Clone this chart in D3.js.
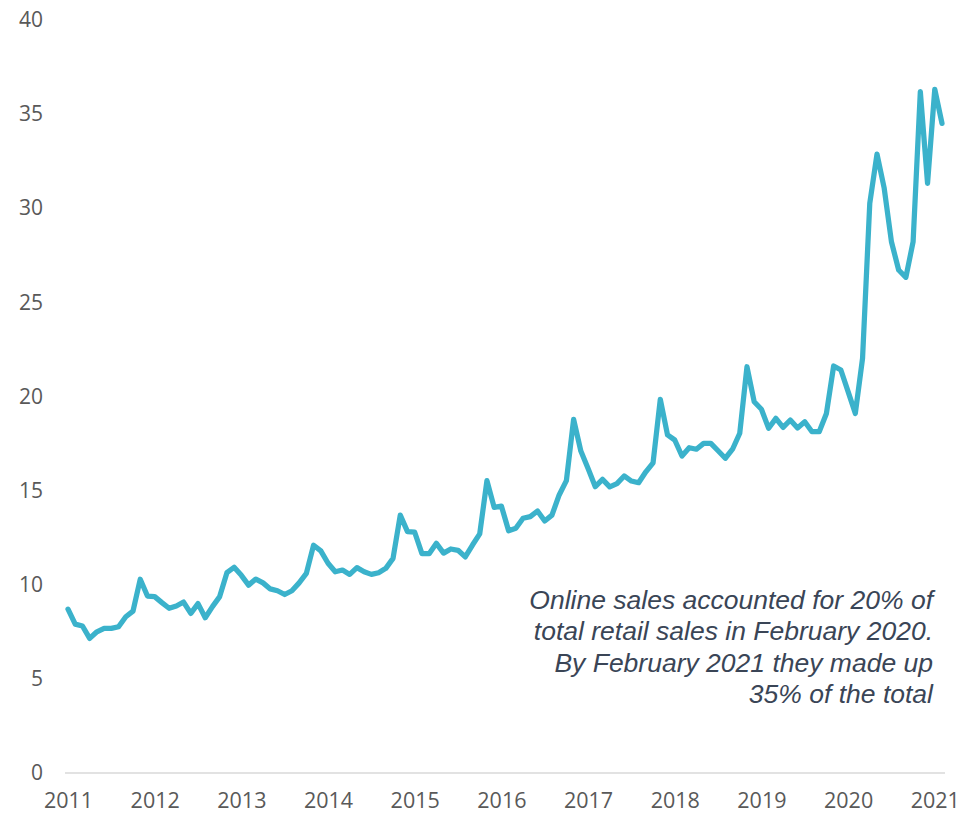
<!DOCTYPE html>
<html>
<head>
<meta charset="utf-8">
<script src="https://cdn.jsdelivr.net/npm/d3@7"></script>
<style>
    body { margin: 0; background: #fff; }
    #chart { width: 974px; height: 815px; }
    .tick text { font-family: "Open Sans", sans-serif; fill: #595959; }
</style>
</head>
<body>
<div id="chart"></div>
<script>
// Internet sales as % of total retail sales, monthly Jan 2011 - Feb 2021
const onlineShare = [
    8.7, 7.91, 7.81, 7.15, 7.5, 7.68, 7.68, 7.77, 8.3, 8.6, 10.29, 9.4,          // 2011
    9.37, 9.05, 8.75, 8.87, 9.08, 8.48, 9.0, 8.25, 8.84, 9.37, 10.64, 10.93,     // 2012
    10.5, 9.98, 10.3, 10.1, 9.78, 9.68, 9.48, 9.68, 10.1, 10.6, 12.1, 11.8,      // 2013
    11.14, 10.69, 10.78, 10.55, 10.91, 10.69, 10.55, 10.64, 10.87, 11.4, 13.7, 12.82, // 2014
    12.79, 11.65, 11.65, 12.2, 11.68, 11.9, 11.83, 11.48, 12.11, 12.7, 15.53, 14.11,  // 2015
    14.18, 12.87, 13.0, 13.53, 13.62, 13.92, 13.39, 13.7, 14.77, 15.53, 18.79, 17.1,  // 2016
    16.18, 15.21, 15.6, 15.2, 15.37, 15.78, 15.51, 15.42, 16.0, 16.48, 19.85, 17.96,  // 2017
    17.69, 16.84, 17.28, 17.2, 17.51, 17.51, 17.12, 16.72, 17.2, 18.05, 21.58, 19.72, // 2018
    19.32, 18.31, 18.84, 18.36, 18.75, 18.33, 18.66, 18.13, 18.13, 19.1, 21.62, 21.41, // 2019
    20.26, 19.1, 22.03, 30.26, 32.88, 31.06, 28.22, 26.72, 26.33, 28.22, 36.19, 31.32, // 2020
    36.32, 34.51                                                                        // 2021
];

const yearLabels = ["2011", "2012", "2013", "2014", "2015", "2016", "2017", "2018", "2019", "2020", "2021"];
const yTicks = [0, 5, 10, 15, 20, 25, 30, 35, 40];

const noteLines = [
    "Online sales accounted for 20% of",
    "total retail sales in February 2020.",
    "By February 2021 they made up",
    "35% of the total"
];

const width = 974, height = 815;

const svg = d3.select("#chart").append("svg")
    .attr("width", width)
    .attr("height", height);

const x = d3.scaleLinear()
    .domain([0, onlineShare.length - 1])
    .range([68, 942]);

const y = d3.scaleLinear()
    .domain([0, 40])
    .range([773, 20]);

// y labels, no axis line
const yAxis = svg.append("g")
    .attr("transform", "translate(43,0)")
    .call(d3.axisLeft(y).tickValues(yTicks).tickSize(0).tickPadding(0));
yAxis.select(".domain").remove();
yAxis.selectAll("text").style("font-size", "21px");

// baseline
svg.append("line")
    .attr("x1", x.range()[0] - 3)
    .attr("x2", x.range()[1] + 3)
    .attr("y1", y(0))
    .attr("y2", y(0))
    .attr("stroke", "#d9d9d9")
    .attr("stroke-width", 1.5);

// year labels at each January
const xAxis = svg.append("g")
    .attr("transform", `translate(0,${y(0)})`)
    .call(d3.axisBottom(x)
        .tickValues(yearLabels.map((d, i) => i * 12))
        .tickFormat((d, i) => yearLabels[i])
        .tickSize(0)
        .tickPadding(20));
xAxis.select(".domain").remove();
xAxis.selectAll("text").style("font-size", "21.5px");

const line = d3.line()
    .x((d, i) => x(i))
    .y(d => y(d));

svg.append("path")
    .datum(onlineShare)
    .attr("fill", "none")
    .attr("stroke", "#3bb2cb")
    .attr("stroke-width", 5.25)
    .attr("stroke-linejoin", "round")
    .attr("stroke-linecap", "round")
    .attr("d", line);

svg.append("text")
    .attr("text-anchor", "end")
    .attr("font-family", "'Liberation Sans', Arial, sans-serif")
    .attr("font-style", "italic")
    .attr("font-size", "26.5px")
    .attr("fill", "#3a4556")
    .selectAll("tspan")
    .data(noteLines)
    .join("tspan")
    .attr("x", 933)
    .attr("y", (d, i) => 609 + i * 31.3)
    .text(d => d);
</script>
</body>
</html>
